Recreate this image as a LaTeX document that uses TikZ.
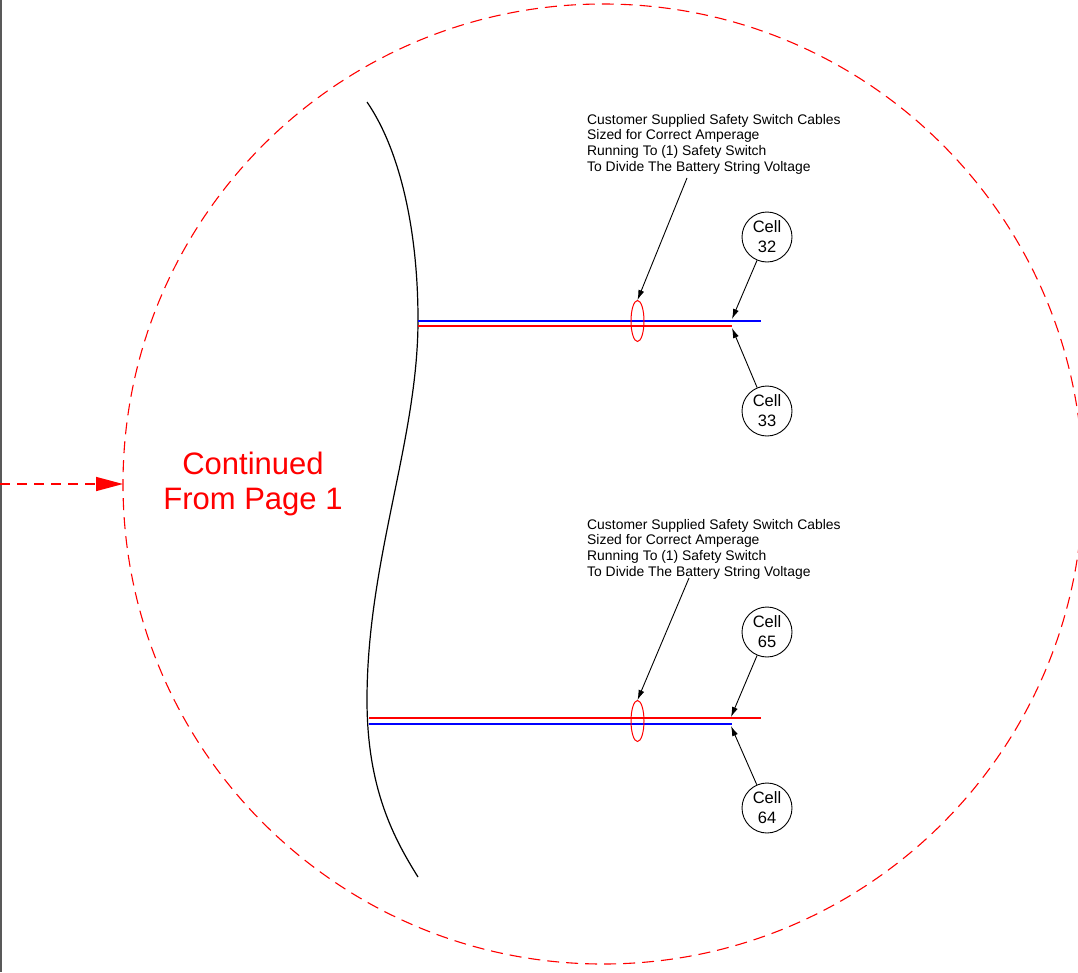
\documentclass[tikz,border=0pt]{standalone}
\usepackage{fontspec}
\setmainfont{Liberation Sans}
\usetikzlibrary{arrows.meta,shapes.geometric}
\begin{document}
\begin{tikzpicture}[x=1pt,y=-1pt,
  cell/.style={circle,draw,line width=0.9pt,minimum size=50pt,inner sep=0pt,align=center,font=\fontsize{16.5}{20}\selectfont},
  note/.style={anchor=north west,inner sep=0pt,align=left,font=\fontsize{13.9}{15.6}\selectfont},
  ring/.style={ellipse,draw=red,line width=1pt,minimum width=13pt,minimum height=41pt,inner sep=0pt},
  ptr/.style={line width=0.9pt,-{Latex[length=10pt,width=6pt]}},
  bluew/.style={draw=blue,line width=1.8pt},
  redw/.style={draw=red,line width=1.8pt},
  reddash/.style={red,line width=1.1pt,dash pattern=on 12pt off 7pt}]
\useasboundingbox (0,0) rectangle (1078,972);
\clip (0,0) rectangle (1078,972);
\fill[white] (0,0) rectangle (1078,972);
\draw[line width=2pt,black!65] (1,0) -- (1,972);
% big dashed circle
\draw[reddash] (603,484) circle[radius=480];
% incoming dashed arrow
\coordinate (src) at (0,484);
\coordinate (rim) at (123,484);
\draw[reddash,line width=1.5pt,dash pattern=on 10pt off 7pt,-{Triangle[length=27pt,width=14pt]}] (src) -- (rim);
\node[text=red,align=center,inner sep=0pt,font=\fontsize{31}{35}\selectfont] (cont) at (253,484) {Continued\\From Page 1};
% break curve
\draw[line width=1.2pt] (367,102) .. controls (400,150) and (418,230) .. (418,320)
  .. controls (418,440) and (367,560) .. (367,700)
  .. controls (367,790) and (395,840) .. (418,877);
% upper cable pair
\coordinate (ua) at (418,321); \coordinate (uae) at (761,321);
\coordinate (ub) at (418,326); \coordinate (ube) at (732,326);
\draw[bluew] (ua) -- (uae);
\draw[redw] (ub) -- (ube);
\node[ring] (ringA) at (637.5,321) {};
\node[note] (noteA) at (587,114) {Customer Supplied Safety Switch Cables\\Sized for Correct Amperage\\Running To (1) Safety Switch\\To Divide The Battery String Voltage};
\coordinate (ta) at (687,178);
\draw[ptr] (ta) -- (ringA.north);
\node[cell] (c32) at (767,237) {Cell\\32};
\node[cell] (c33) at (767,411) {Cell\\33};
\coordinate (tipA) at (732,319);
\coordinate (tipB) at (732,328);
\draw[ptr] (c32) -- (tipA);
\draw[ptr] (c33) -- (tipB);
% lower cable pair
\coordinate (la) at (369,718); \coordinate (lae) at (761,718);
\coordinate (lb) at (369,724); \coordinate (lbe) at (732,724);
\draw[redw] (la) -- (lae);
\draw[bluew] (lb) -- (lbe);
\node[ring] (ringB) at (637.5,721) {};
\node[note] (noteB) at (587,519) {Customer Supplied Safety Switch Cables\\Sized for Correct Amperage\\Running To (1) Safety Switch\\To Divide The Battery String Voltage};
\coordinate (tb) at (689,578);
\draw[ptr] (tb) -- (ringB.north);
\node[cell] (c65) at (767,632) {Cell\\65};
\node[cell] (c64) at (767,808) {Cell\\64};
\coordinate (tipC) at (731,717);
\coordinate (tipD) at (731,726);
\draw[ptr] (c65) -- (tipC);
\draw[ptr] (c64) -- (tipD);
\end{tikzpicture}
\end{document}
